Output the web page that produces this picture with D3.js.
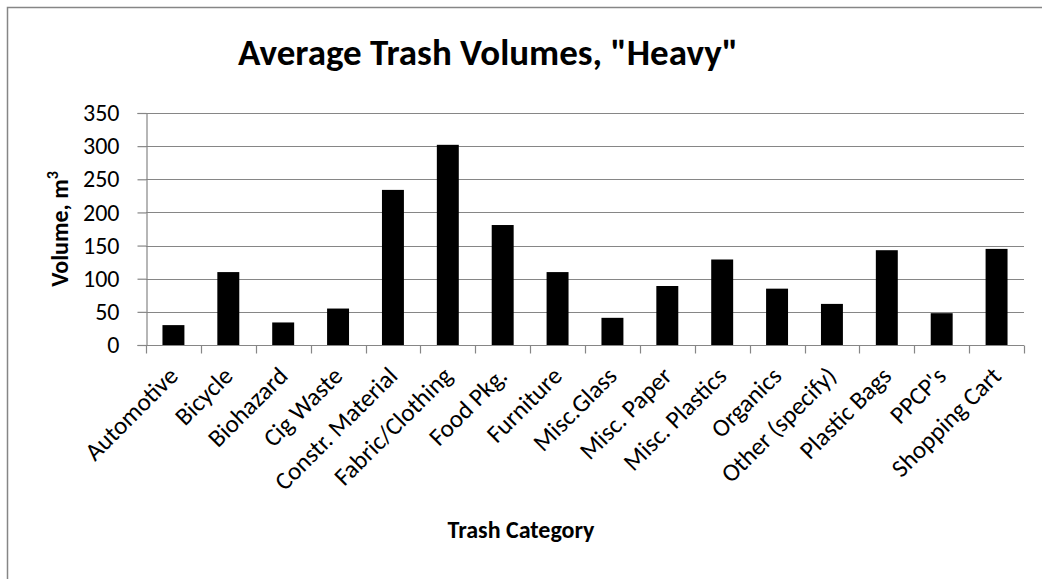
<!DOCTYPE html>
<html>
<head>
<meta charset="utf-8">
<script src="https://cdn.jsdelivr.net/npm/d3@7/dist/d3.min.js"></script>
<style>
  html, body { margin: 0; padding: 0; background: #fff; }
  svg { display: block; font-family: Carlito, "Open Sans", sans-serif; }
</style>
</head>
<body>
<script>
const categories = ["Automotive", "Bicycle", "Biohazard", "Cig Waste", "Constr. Material",
  "Fabric/Clothing", "Food Pkg.", "Furniture", "Misc.Glass", "Misc. Paper", "Misc. Plastics",
  "Organics", "Other (specify)", "Plastic Bags", "PPCP's", "Shopping Cart"];
const volumes = [30, 110, 34, 55, 234, 302, 181, 110, 41, 89, 129, 85, 62, 143, 48, 145];
const yTicks = [0, 50, 100, 150, 200, 250, 300, 350];
const titleText = 'Average Trash Volumes, "Heavy"';
const xTitle = "Trash Category";
const yTitle = "Volume, m";

const W = 1042, H = 579;
const pLeft = 146, pRight = 1024, pTop = 113, pBottom = 345;

const svg = d3.select("body").append("svg").attr("width", W).attr("height", H);

// chart border
svg.append("rect").attr("x", 7.5).attr("y", 7.5).attr("width", W + 20).attr("height", H + 20)
  .attr("fill", "#fff").attr("stroke", "#868686").attr("stroke-width", 1.5);

const x = d3.scaleBand().domain(categories).range([pLeft, pRight]).paddingInner(0.6).paddingOuter(0.3);
const xb = d3.scaleBand().domain(categories).range([pLeft, pRight]);
const y = d3.scaleLinear().domain([0, 350]).range([pBottom, pTop]);

// gridlines
svg.append("g").selectAll("line").data(yTicks.filter(d => d > 0)).join("line")
  .attr("x1", pLeft).attr("x2", pRight)
  .attr("y1", d => Math.round(y(d)) + 0.5).attr("y2", d => Math.round(y(d)) + 0.5)
  .attr("stroke", "#868686").attr("stroke-width", 1.2);

// y axis
const yAxis = svg.append("g").attr("transform", `translate(${pLeft + 0.5},0)`)
  .call(d3.axisLeft(y).tickValues(yTicks).tickSize(9).tickPadding(18));
yAxis.select(".domain").attr("stroke", "#868686").attr("stroke-width", 1.2);
yAxis.selectAll(".tick line").attr("stroke", "#868686").attr("stroke-width", 1.2);
yAxis.selectAll(".tick text").attr("font-size", 24).attr("fill", "#000")
  .style("font-family", 'Carlito, "Open Sans", sans-serif');

// bars
svg.append("g").selectAll("rect").data(volumes).join("rect")
  .attr("x", (d, i) => x(categories[i]))
  .attr("width", x.bandwidth())
  .attr("y", d => y(d))
  .attr("height", d => pBottom - y(d))
  .attr("fill", "#000");

// x axis
const xAxis = svg.append("g").attr("transform", `translate(0,${pBottom + 0.5})`);
xAxis.append("line").attr("x1", pLeft).attr("x2", pRight).attr("stroke", "#868686").attr("stroke-width", 1.2);
xAxis.selectAll("line.tk").data(d3.range(categories.length + 1)).join("line").attr("class", "tk")
  .attr("x1", i => Math.round(pLeft + i * xb.step()) + 0.5)
  .attr("x2", i => Math.round(pLeft + i * xb.step()) + 0.5)
  .attr("y1", 0).attr("y2", 8)
  .attr("stroke", "#868686").attr("stroke-width", 1.2);
xAxis.selectAll("text").data(categories).join("text")
  .attr("transform", d => `translate(${xb(d) + xb.bandwidth() / 2 + 6},${32}) rotate(-45)`)
  .attr("text-anchor", "end")
  .attr("font-size", 25)
  .attr("fill", "#000")
  .text(d => d);

// title
svg.append("text").attr("x", 488).attr("y", 65).attr("text-anchor", "middle")
  .attr("font-size", 37).attr("font-weight", "bold").attr("fill", "#000").text(titleText);

// x axis title
svg.append("text").attr("x", 521).attr("y", 538).attr("text-anchor", "middle")
  .attr("font-size", 24).attr("font-weight", "bold").attr("fill", "#000").text(xTitle);

// y axis title
const yt = svg.append("text").attr("transform", `translate(68,229) rotate(-90)`)
  .attr("text-anchor", "middle").attr("font-size", 24).attr("font-weight", "bold").attr("fill", "#000");
yt.append("tspan").text(yTitle);
yt.append("tspan").attr("dy", -10).attr("font-size", 16).text("3");
</script>
</body>
</html>
